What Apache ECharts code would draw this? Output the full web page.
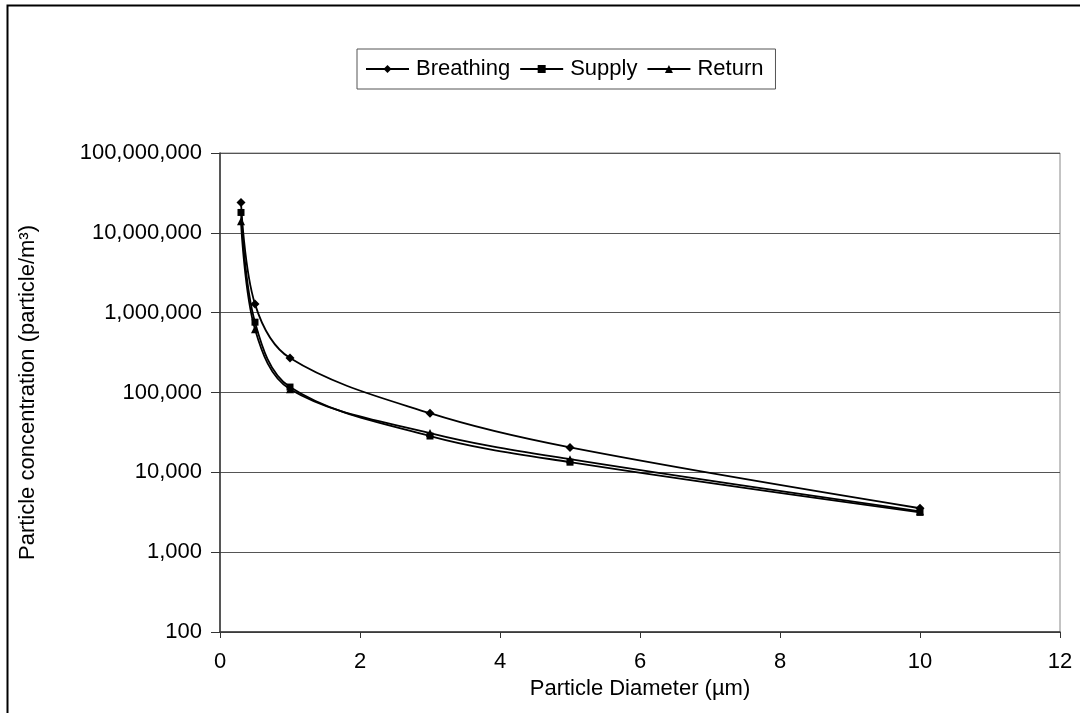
<!DOCTYPE html>
<html>
<head>
<meta charset="utf-8">
<script src="https://cdn.jsdelivr.net/npm/echarts@6/dist/echarts.min.js"></script>
<style>
  html, body { margin: 0; padding: 0; background: #fff; }
  #chart { width: 1080px; height: 713px; }
</style>
</head>
<body>
<div id="chart"></div>
<script>
// particle sizes (µm) and concentrations
const diameters = [0.3, 0.5, 1, 3, 5, 10]
const breathing = [24000000, 1280000, 270000, 55000, 20500, 3550]
const supply = [18000000, 760000, 117000, 28500, 13400, 3150]
const returnAir = [14000000, 620000, 110000, 31000, 14600, 3250]

const xTicks = { min: 0, max: 12, step: 2 }
const yRange = { min: 100, max: 100000000 }

const font = 'Liberation Sans, Arial, sans-serif'

function pairs(ys) {
    return diameters.map((x, i) => [x, ys[i]])
}

function lineSeries(name, ys, symbol, size) {
    return {
        name: name,
        type: 'line',
        data: pairs(ys),
        smooth: 0.35,
        symbol: symbol,
        symbolSize: size,
        showSymbol: true,
        itemStyle: { color: '#000' },
        lineStyle: { color: '#000', width: 1.8 },
        emphasis: { disabled: true }
    }
}

const chart = echarts.init(document.getElementById('chart'))
chart.setOption({
    animation: false,
    backgroundColor: '#fff',
    textStyle: { fontFamily: font },
    graphic: [{
        type: 'rect',
        shape: { x: 7.5, y: 5.5, width: 1200, height: 900 },
        style: { fill: 'none', stroke: '#000', lineWidth: 2 },
        silent: true
    }],
    legend: {
        left: 357,
        top: 49,
        padding: [9, 12, 9, 8],
        borderColor: '#555',
        borderWidth: 1,
        itemWidth: 43,
        itemHeight: 10,
        itemGap: 9,
        textStyle: { fontSize: 22, color: '#000', fontFamily: font, padding: [0, 0, 0, 2] },
        data: ['Breathing', 'Supply', 'Return']
    },
    grid: { left: 220, right: 20, top: 153, bottom: 81, containLabel: false,
        show: true, borderColor: '#888', borderWidth: 1 },
    xAxis: {
        type: 'value',
        min: xTicks.min,
        max: xTicks.max,
        interval: xTicks.step,
        name: 'Particle Diameter (µm)',
        nameLocation: 'middle',
        nameGap: 46,
        nameTextStyle: { fontSize: 22, color: '#000', fontFamily: font },
        axisLine: { lineStyle: { color: '#333', width: 1.5 } },
        axisTick: { length: 6, lineStyle: { color: '#333' } },
        axisLabel: { fontSize: 22, color: '#000', margin: 19, fontFamily: font },
        splitLine: { show: false }
    },
    yAxis: {
        type: 'log',
        logBase: 10,
        min: yRange.min,
        max: yRange.max,
        name: 'Particle concentration (particle/m³)',
        nameLocation: 'middle',
        nameGap: 181,
        nameTextStyle: { fontSize: 22, color: '#000', fontFamily: font },
        axisLine: { show: true, lineStyle: { color: '#333', width: 1.5 } },
        axisTick: { show: true, length: 9, lineStyle: { color: '#333' } },
        axisLabel: {
            fontSize: 22, color: '#000', margin: 18, fontFamily: font,
            formatter: v => Math.round(v).toLocaleString('en-US')
        },
        splitLine: { show: true, lineStyle: { color: '#555', width: 1 } },
        minorTick: { show: false }
    },
    series: [
        lineSeries('Breathing', breathing, 'diamond', 9),
        lineSeries('Supply', supply, 'rect', 7),
        lineSeries('Return', returnAir, 'triangle', 8)
    ]
})
</script>
</body>
</html>
